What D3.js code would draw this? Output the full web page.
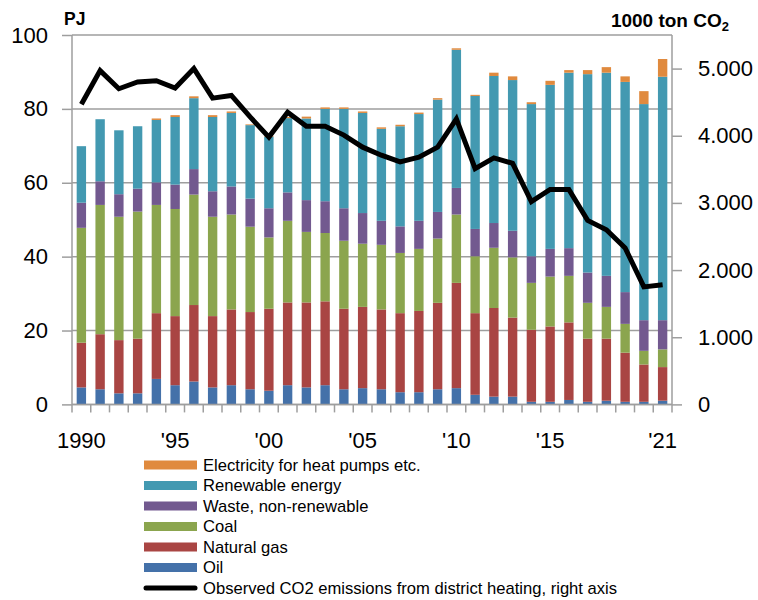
<!DOCTYPE html>
<html>
<head>
<meta charset="utf-8">
<script src="https://cdn.jsdelivr.net/npm/d3@7"></script>
<style>
  html, body { margin: 0; padding: 0; background: #fff; }
  svg { display: block; font-family: "Liberation Sans", Arial, sans-serif; }
</style>
</head>
<body>
<svg id="chart" width="758" height="600"></svg>
<script>
// ---- Data (PJ) ----
const years = d3.range(1990, 2022);
const oil      = [4.6,4.1,3.0,3.0,6.9,5.2,6.2,4.6,5.2,4.1,3.7,5.2,4.6,5.2,4.1,4.4,4.1,3.3,3.3,4.1,4.4,2.6,2.1,2.1,0.7,0.7,1.2,0.7,1.0,0.7,0.7,1.0];
const gas      = [12.1,14.9,14.4,14.8,17.8,18.7,20.7,19.3,20.5,20.9,22.2,22.4,23.0,22.7,21.8,22.0,21.6,21.4,22.0,23.4,28.5,22.1,24.0,21.4,19.5,20.4,21.0,17.1,16.8,13.3,10.1,9.1];
const coal     = [31.1,35.0,33.4,34.4,29.3,29.0,29.9,26.9,25.7,23.1,19.3,22.1,19.1,18.5,18.4,17.1,17.5,16.3,16.8,17.4,18.5,15.4,16.3,16.3,12.7,13.5,12.6,9.7,8.6,7.8,3.7,4.8];
const waste    = [6.8,6.4,6.1,6.2,6.1,6.6,6.9,6.9,7.6,7.6,7.9,7.7,8.6,8.6,8.8,8.3,6.5,7.2,7.6,7.2,7.2,7.4,6.7,7.2,7.2,7.5,7.5,8.2,8.4,8.6,8.3,7.9];
const renewable= [15.3,16.8,17.3,16.9,16.9,18.3,19.2,20.1,19.9,19.9,19.4,20.1,22.1,25.0,26.9,27.1,24.9,27.1,28.9,30.4,37.4,36.0,39.8,40.8,41.2,44.4,47.5,53.7,55.0,56.9,58.5,65.9];
const electricity=[0,0,0,0,0.4,0.5,0.5,0.5,0.4,0.2,0.2,0.3,0.5,0.4,0.4,0.4,0.4,0.4,0.4,0.4,0.4,0.3,0.9,1.0,0.5,1.1,0.7,1.1,1.5,1.5,3.5,4.8];
// CO2 emissions, 1000 ton (right axis)
const co2 = [4470,4970,4700,4800,4820,4710,5000,4560,4600,4280,3980,4350,4140,4140,4010,3830,3710,3610,3680,3830,4250,3510,3670,3590,3020,3200,3200,2740,2600,2330,1750,1780];

const seriesNames = ["Oil","Natural gas","Coal","Waste, non-renewable","Renewable energy","Electricity for heat pumps etc."];
const seriesKeys  = ["oil","gas","coal","waste","renewable","electricity"];
const seriesColors= ["#4471A9","#A94543","#8BA54E","#72598F","#4399B1","#E08A3E"];
const leftTicks = [0,20,40,60,80,100];
const rightTicks = [0,1000,2000,3000,4000,5000];
const xLabels = {1990:"1990",1995:"'95",2000:"'00",2005:"'05",2010:"'10",2015:"'15",2021:"'21"};
const co2Label = "Observed CO2 emissions from district heating, right axis";

// ---- Build table ----
const table = years.map((y,i) => ({year:y, oil:oil[i], gas:gas[i], coal:coal[i], waste:waste[i], renewable:renewable[i], electricity:electricity[i], co2:co2[i]}));

const svg = d3.select("#chart");
const m = {left:72, right:672, top:35, bottom:404.4};

const x = d3.scaleBand().domain(years).range([m.left, m.right]).paddingInner(0.5).paddingOuter(0.25);
const yL = d3.scaleLinear().domain([0,100]).range([m.bottom, m.top]);
const yR = d3.scaleLinear().domain([0,5500]).range([m.bottom, m.top]);

const gridColor = "#9E9E9E";

// gridlines
svg.append("g").selectAll("line").data(leftTicks).join("line")
  .attr("x1", m.left).attr("x2", m.right)
  .attr("y1", d => yL(d)).attr("y2", d => yL(d))
  .attr("stroke", gridColor).attr("stroke-width", 1.5);

// stacked bars
const stack = d3.stack().keys(seriesKeys)(table);
svg.append("g").selectAll("g").data(stack).join("g")
  .attr("fill", (d,i) => seriesColors[i])
  .selectAll("rect").data(d => d).join("rect")
  .attr("x", d => x(d.data.year))
  .attr("width", x.bandwidth())
  .attr("y", d => yL(d[1]))
  .attr("height", d => Math.max(0, yL(d[0]) - yL(d[1])));

// left axis
const axL = svg.append("g").attr("transform", `translate(${m.left},0)`)
  .call(d3.axisLeft(yL).tickValues(leftTicks).tickSize(10).tickPadding(14).tickFormat(d3.format("d")));
axL.select(".domain").attr("stroke", gridColor).attr("stroke-width", 1.5).attr("d", `M0,${m.top}V${m.bottom}`);
axL.selectAll(".tick line").attr("stroke", gridColor).attr("stroke-width", 1.5);
axL.selectAll(".tick text").attr("font-size", 22).attr("fill", "#000").attr("font-family", "Liberation Sans, Arial, sans-serif");

// right axis
const danish = d3.formatLocale({decimal:",", thousands:".", grouping:[3], currency:["","kr"]});
const axR = svg.append("g").attr("transform", `translate(${m.right},0)`)
  .call(d3.axisRight(yR).tickValues(rightTicks).tickSize(10).tickPadding(16).tickFormat(d => d === 0 ? "0" : danish.format(",")(d)));
axR.select(".domain").attr("stroke", gridColor).attr("stroke-width", 1.5).attr("d", `M0,${m.top}V${m.bottom}`);
axR.selectAll(".tick line").attr("stroke", gridColor).attr("stroke-width", 1.5);
axR.selectAll(".tick text").attr("font-size", 22).attr("fill", "#000").attr("font-family", "Liberation Sans, Arial, sans-serif");

// bottom axis: ticks at band boundaries
const boundaryScale = d3.scaleLinear().domain([0, years.length]).range([m.left, m.right]);
svg.append("g").selectAll("line").data(d3.range(0, years.length + 1)).join("line")
  .attr("x1", d => boundaryScale(d)).attr("x2", d => boundaryScale(d))
  .attr("y1", m.bottom).attr("y2", m.bottom + 8)
  .attr("stroke", gridColor).attr("stroke-width", 1.5);
svg.append("line").attr("x1", m.left).attr("x2", m.right).attr("y1", m.bottom).attr("y2", m.bottom)
  .attr("stroke", gridColor).attr("stroke-width", 1.5);
svg.append("g").selectAll("text").data(years.filter(y => xLabels[y])).join("text")
  .attr("x", d => x(d) + x.bandwidth()/2)
  .attr("y", 448)
  .attr("text-anchor", "middle")
  .attr("font-size", 22)
  .text(d => xLabels[d]);

// CO2 line
const line = d3.line().x(d => x(d.year) + x.bandwidth()/2).y(d => yR(d.co2));
svg.append("path").datum(table).attr("d", line)
  .attr("fill", "none").attr("stroke", "#000").attr("stroke-width", 5).attr("stroke-linejoin", "miter");

// axis titles
svg.append("text").attr("x", 64).attr("y", 25).attr("font-size", 17.5).attr("font-weight", "bold").text("PJ");
const rt = svg.append("text").attr("x", 729).attr("y", 27).attr("font-size", 19).attr("font-weight", "bold").attr("text-anchor", "end");
rt.append("tspan").text("1000 ton CO");
rt.append("tspan").attr("font-size", 13).attr("dy", 4).text("2");

// legend
const legendItems = [...seriesNames.map((n,i) => ({name:n, color:seriesColors[i], type:"rect"})).reverse(), {name:co2Label, color:"#000", type:"line"}];
const lg = svg.append("g").selectAll("g").data(legendItems).join("g")
  .attr("transform", (d,i) => `translate(144,${465 + i*20.5})`);
lg.filter(d => d.type === "rect").append("rect")
  .attr("x", 0).attr("y", -4.5).attr("width", 53).attr("height", 9).attr("fill", d => d.color);
lg.filter(d => d.type === "line").append("line")
  .attr("x1", 2).attr("x2", 51).attr("y1", 0).attr("y2", 0)
  .attr("stroke", "#000").attr("stroke-width", 5).attr("stroke-linecap", "round");
lg.append("text").attr("x", 59).attr("y", 0).attr("dy", "0.35em").attr("font-size", 16.6).text(d => d.name);
</script>
</body>
</html>
